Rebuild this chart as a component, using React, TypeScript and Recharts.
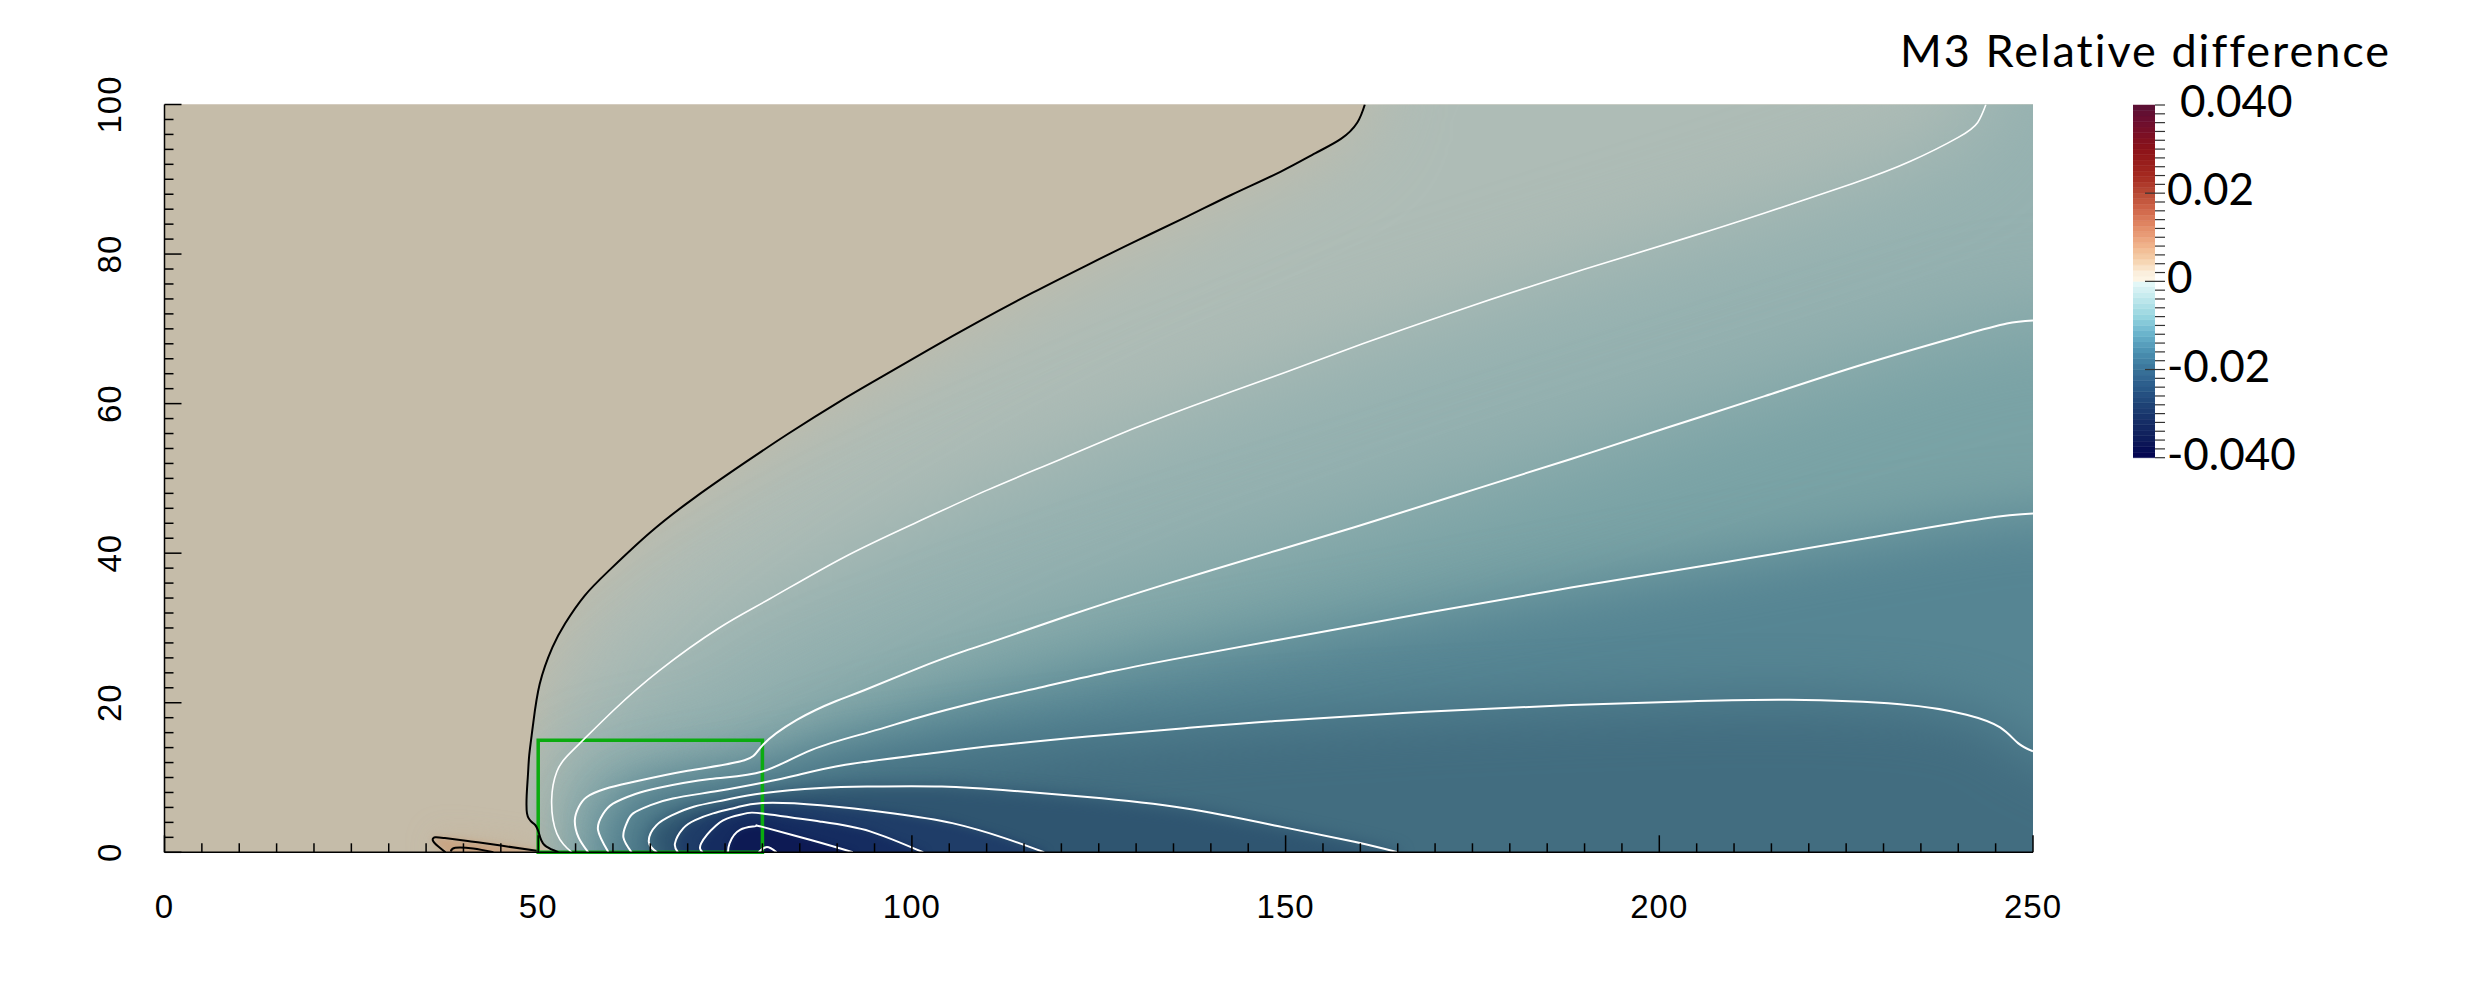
import { Area, ComposedChart, Line, ReferenceArea, XAxis, YAxis } from 'recharts';

// contours of the relative difference as [x, y]
const zeroLine = [[52.7, 0], [51.1, 0.75], [50.3, 1.9], [49.6, 3.65], [48.5, 5.2], [48.6, 9.9], [48.8, 13], [49.3, 17], [50.2, 22.5], [51.9, 27.4], [53.6, 30.6], [56.2, 34.3], [59.6, 37.8], [64.9, 42.7], [70.9, 47.4], [77.5, 52], [83.5, 56], [90.2, 60.2], [96, 63.6], [102.2, 67.2], [108.8, 70.9], [116.1, 74.8], [123.4, 78.5], [130.1, 81.8], [136.8, 85], [142.7, 87.9], [149.3, 91], [154, 93.5], [157.4, 95.4], [159.6, 97.6], [160.6, 100]];
const level1 = [[54.5, 0], [52.5, 2.5], [51.8, 7], [52.5, 10.8], [53.8, 12.8], [56, 15], [60.2, 19.1], [66.2, 24.3], [74.2, 30], [81, 33.9], [90.8, 39.4], [100.8, 44.2], [110, 48.4], [120, 52.6], [130, 56.8], [140, 60.6], [150, 64.2], [160.3, 68], [172, 72.1], [188.2, 77.4], [204.4, 82.4], [214.1, 85.5], [225.8, 89.4], [233.6, 92.4], [240, 95.6], [242.6, 97.6], [243.7, 100]];
const level2 = [[56.7, 0], [55.4, 2], [54.9, 4.3], [55.4, 6], [56.5, 7.4], [59, 8.5], [62.7, 9.4], [70, 10.9], [77.6, 12.3], [80, 14.3], [84.6, 17.7], [89.8, 20.2], [93.7, 21.7], [100.8, 24.6], [106.7, 26.8], [111.5, 28.4], [120.8, 31.6], [134.1, 35.9], [149.3, 40.5], [162.2, 44.4], [175.2, 48.5], [188.2, 52.6], [201.1, 56.8], [214.1, 61], [227.1, 65.2], [240.1, 69], [246.5, 70.7], [250, 71.1]];
const level3 = [[59.4, 0], [58, 3], [58.6, 5], [60, 6.5], [63, 7.8], [66, 8.6], [73, 9.8], [80, 10.8], [86.6, 13.7], [94.4, 16.1], [100.8, 18], [109.2, 20.2], [117, 22], [126.8, 24.2], [136.5, 26.1], [149.5, 28.5], [168.7, 32], [188.2, 35.4], [207.6, 38.6], [227.1, 41.9], [243.3, 44.6], [250, 45.3]];
const level4 = [[62.5, 0], [61.4, 2], [61.8, 3.8], [62.7, 5.2], [65, 6.3], [68, 7.2], [74, 8.2], [80, 9.3], [84.6, 10.3], [91.1, 11.7], [100.8, 13], [110.6, 14.2], [123.5, 15.5], [136.5, 16.6], [149.3, 17.6], [168.7, 18.8], [188.2, 19.7], [204.4, 20.2], [217.4, 20.4], [232.2, 19.8], [241.1, 18.4], [245.6, 16.7], [248, 14.6], [250, 13.5]];
const level5 = [[65.9, 0], [64.8, 1.4], [65.8, 3.6], [68, 5], [70.8, 6.1], [75, 7], [80, 7.9], [87.8, 8.6], [94.4, 8.8], [104, 8.8], [113.8, 8.2], [123.5, 7.4], [136.5, 5.9], [149.5, 3.4], [159.2, 1.4], [165, 0]];
const level6 = [[68.7, 0], [68.3, 1.2], [69.4, 3.2], [71, 4.3], [73.4, 5.2], [76.5, 6], [80, 6.6], [87.8, 6.3], [97.6, 5.2], [105.4, 3.9], [112.4, 1.9], [117.7, 0]];
const level7 = [[72, 0], [71.8, 1.2], [73.8, 3.6], [75.8, 4.7], [77.8, 5.2], [80, 5.2], [87.8, 4.1], [94.4, 2.8], [101.5, 0]];
const level8 = [[75.4, 0], [75.6, 1.2], [77, 3], [79.1, 3.5], [80, 3.4], [86.6, 1.6], [92.1, 0]];
const level9 = [[79.5, 0], [80.6, 0.7], [81.9, 0]];
const tanOuter = [[37.6, 0], [36.6, 0.8], [35.9, 1.6], [36.2, 2], [37.5, 1.9], [41, 1.45], [45, 0.9], [49.8, 0.2]];
const tanInner = [[38.3, 0.1], [38.9, 0.6], [41.3, 0.5], [44, 0]];

// where the fills carry on outside the plot, so their soft edges do not fade at the border
const zeroPad = [[160.6, 160], [330, 160]];
const level1Pad = [[246, 130], [330, 130]];
const level2Pad = [[330, 76]];
const level3Pad = [[330, 48]];
const level4Pad = [[262, 8], [330, 6]];

const bandColors = ['#aebcb6', '#95b1b0', '#79a2a5', '#568593', '#426d80', '#2f5570', '#1f3d68', '#152c60', '#0d1a54', '#0a1050'];
const bandBlur = [40, 45, 45, 30, 28, 8, 5, 4, 3, 1];
const bandLines = [zeroLine, level1, level2, level3, level4, level5, level6, level7, level8, level9];
const bandPads = [zeroPad, level1Pad, level2Pad, level3Pad, level4Pad, [], [], [], [], []];

const xTicks = Array.from({ length: 51 }, (_, i) => i * 5);
const yTicks = Array.from({ length: 51 }, (_, i) => i * 2);
const xLabels = [0, 50, 100, 150, 200, 250];
const yLabels = [0, 20, 40, 60, 80, 100];

const colorStops: [number, string][] = [
  [0.04, '#5a1035'], [0.0366, '#6b0e30'], [0.0298, '#8c1218'], [0.0238, '#a52a20'], [0.02, '#b84a35'],
  [0.0162, '#d0664a'], [0.0125, '#e28a66'], [0.008, '#f0b48c'], [0.005, '#f5d0aa'], [0.002, '#fbefdc'],
  [0.0002, '#fdf5e6'], [-0.0004, '#e4f8f8'], [-0.004, '#bfe8ec'], [-0.008, '#96d5e0'], [-0.0117, '#6cb5cd'],
  [-0.0162, '#4a8fb0'], [-0.02, '#3a7399'], [-0.0238, '#2a5b8a'], [-0.0275, '#1f4578'], [-0.0313, '#163068'],
  [-0.0358, '#0e1c5a'], [-0.04, '#02024f'],
];
const colorTicks = Array.from({ length: 41 }, (_, i) => Math.round((-0.04 + i * 0.002) * 1000) / 1000);
const colorLabels: Record<string, string> = { '0.04': '0.040', '0.02': '0.02', '0': '0', '-0.02': '-0.02', '-0.04': '-0.040' };
const BAND_COUNT = 64;

function mix(v: number) {
  for (let i = 1; i < colorStops.length; i++) {
    const [hi, a] = colorStops[i - 1];
    const [lo, b] = colorStops[i];
    if (v >= lo) {
      const t = (hi - v) / (hi - lo);
      const ch = (s: string, k: number) => parseInt(s.slice(k, k + 2), 16);
      const out = [1, 3, 5].map(k => Math.round(ch(a, k) + (ch(b, k) - ch(a, k)) * t));
      return `rgb(${out.join(',')})`;
    }
  }
  return colorStops[colorStops.length - 1][1];
}

const toPoints = (line: number[][], base = -60) => line.map(([x, y]) => ({ x, y, base }));
const range = (d: { y: number; base: number }) => [d.base, d.y];

const capPoints = [{ x: -60, y: -60, base: 160 }, { x: 52.7, y: -60, base: 160 }, ...toPoints(zeroLine, 160), { x: 160.6, y: 160, base: 160 }];

const LABEL_FONT = '"Liberation Sans", sans-serif';
const BIG_FONT = 'Lato, sans-serif';

function XTick({ x, y, payload }: any) {
  const major = payload.value % 50 === 0;
  return (
    <g>
      <line x1={x} x2={x} y1={y} y2={y - (major ? 17 : 9)} stroke="#000" strokeWidth={1.5} />
      {xLabels.includes(payload.value) && (
        <text x={x} y={y + 66} textAnchor="middle" fontFamily={LABEL_FONT} fontSize={33} fill="#000" letterSpacing={1}>
          {payload.value}
        </text>
      )}
    </g>
  );
}

function YTick({ x, y, payload }: any) {
  const major = payload.value % 20 === 0;
  return (
    <g>
      <line x1={x} x2={x + (major ? 17 : 9)} y1={y} y2={y} stroke="#000" strokeWidth={1.5} />
      {yLabels.includes(payload.value) && (
        <text transform={`translate(${x - 44} ${y}) rotate(-90)`} textAnchor="middle" fontFamily={LABEL_FONT} fontSize={33} fill="#000" letterSpacing={1}>
          {payload.value}
        </text>
      )}
    </g>
  );
}

function ColorTick({ x, y, payload }: any) {
  const v = payload.value;
  const major = v === 0.02 || v === 0 || v === -0.02;
  const label = colorLabels[String(v)];
  return (
    <g>
      <line x1={major ? x - 10 : x} x2={x + 10} y1={y} y2={y} stroke="#333" strokeWidth={1.2} />
      {label && (
        <text x={v === 0.04 ? x + 25 : x + 12} y={y + 12} fontFamily={BIG_FONT} fontSize={44} fill="#000">
          {label}
        </text>
      )}
    </g>
  );
}

export default function App() {
  const bands = Array.from({ length: BAND_COUNT }, (_, i) => {
    const lo = -0.04 + (i * 0.08) / BAND_COUNT;
    const hi = lo + 0.08 / BAND_COUNT;
    return { lo, hi, fill: mix((lo + hi) / 2) };
  });

  return (
    <div style={{ position: 'absolute', left: 0, top: 0, width: 2480, height: 1000, background: '#fff' }}>
      <style>{bandBlur.map(b => `.soft-${b} .recharts-area-area{filter:blur(${b}px)}`).join('')}{'.soft-16 .recharts-area-area{filter:blur(16px)}'}</style>

      <ComposedChart width={2480} height={1000} margin={{ top: 104.5, left: 163.5, right: 447, bottom: 146.7 }}>
        <ReferenceArea x1={0} x2={250} y1={0} y2={100} fill="#c5bca9" fillOpacity={1} stroke="none" ifOverflow="visible" />
        {bandLines.map((line, i) => (
          <Area
            key={i}
            className={`soft-${bandBlur[i]}`}
            data={toPoints([...line, ...bandPads[i]])}
            dataKey={range}
            type="linear"
            fill={bandColors[i]}
            fillOpacity={1}
            stroke="none"
            dot={false}
            activeDot={false}
            isAnimationActive={false}
          />
        ))}
        <Area data={capPoints} dataKey={range} type="linear" fill="#c5bca9" fillOpacity={1} stroke="none" dot={false} activeDot={false} isAnimationActive={false} />
        <Area className="soft-16" data={toPoints(tanOuter)} dataKey={range} type="linear" fill="#c8a582" fillOpacity={0.35} stroke="none" dot={false} activeDot={false} isAnimationActive={false} />
        <Area className="soft-3" data={toPoints(tanOuter)} dataKey={range} type="linear" fill="#c9a483" fillOpacity={1} stroke="none" dot={false} activeDot={false} isAnimationActive={false} />

        {[tanOuter, tanInner, zeroLine].map((line, i) => (
          <Line key={i} data={toPoints(line)} dataKey="y" type="natural" stroke="#000" strokeWidth={2} dot={false} activeDot={false} isAnimationActive={false} />
        ))}
        {bandLines.slice(1).map((line, i) => (
          <Line key={i} data={toPoints(line)} dataKey="y" type="natural" stroke="#fff" strokeWidth={i === 0 ? 1.6 : 2} dot={false} activeDot={false} isAnimationActive={false} />
        ))}

        <XAxis dataKey="x" type="number" domain={[0, 250]} allowDataOverflow ticks={xTicks} interval={0} height={1} tickSize={0} tickMargin={0} tickLine={false} axisLine={{ stroke: '#000', strokeWidth: 1.5 }} tick={XTick} />
        <YAxis type="number" domain={[0, 100]} allowDataOverflow ticks={yTicks} interval={0} width={1} tickSize={0} tickMargin={0} tickLine={false} axisLine={{ stroke: '#000', strokeWidth: 1.5 }} tick={YTick} />
        <ReferenceArea x1={50} x2={80} y1={0} y2={15} fill="none" stroke="#0bab10" strokeWidth={3.5} ifOverflow="visible" />
      </ComposedChart>

      <div style={{ position: 'absolute', left: 2133, top: 60, width: 347, height: 440 }}>
        <ComposedChart width={347} height={440} margin={{ top: 45, left: 0, right: 324, bottom: 440 - 45 - 352.7 }}>
          {bands.map((b, i) => (
            <Area
              key={i}
              data={[{ x: 0, y: b.hi, base: b.lo }, { x: 1, y: b.hi, base: b.lo }]}
              dataKey={range}
              type="linear"
              fill={b.fill}
              fillOpacity={1}
              stroke={b.fill}
              strokeWidth={0.5}
              dot={false}
              activeDot={false}
              isAnimationActive={false}
            />
          ))}
          <XAxis dataKey="x" type="number" domain={[0, 1]} hide />
          <YAxis orientation="right" type="number" domain={[-0.04, 0.04]} ticks={colorTicks} interval={0} width={1} tickSize={0} tickMargin={0} tickLine={false} axisLine={false} tick={ColorTick} />
        </ComposedChart>
      </div>

      <div style={{ position: 'absolute', left: 1900, top: 30, fontFamily: BIG_FONT, fontSize: 45, letterSpacing: 2, lineHeight: '40px', color: '#000', whiteSpace: 'nowrap' }}>
        M3 Relative difference
      </div>
    </div>
  );
}
